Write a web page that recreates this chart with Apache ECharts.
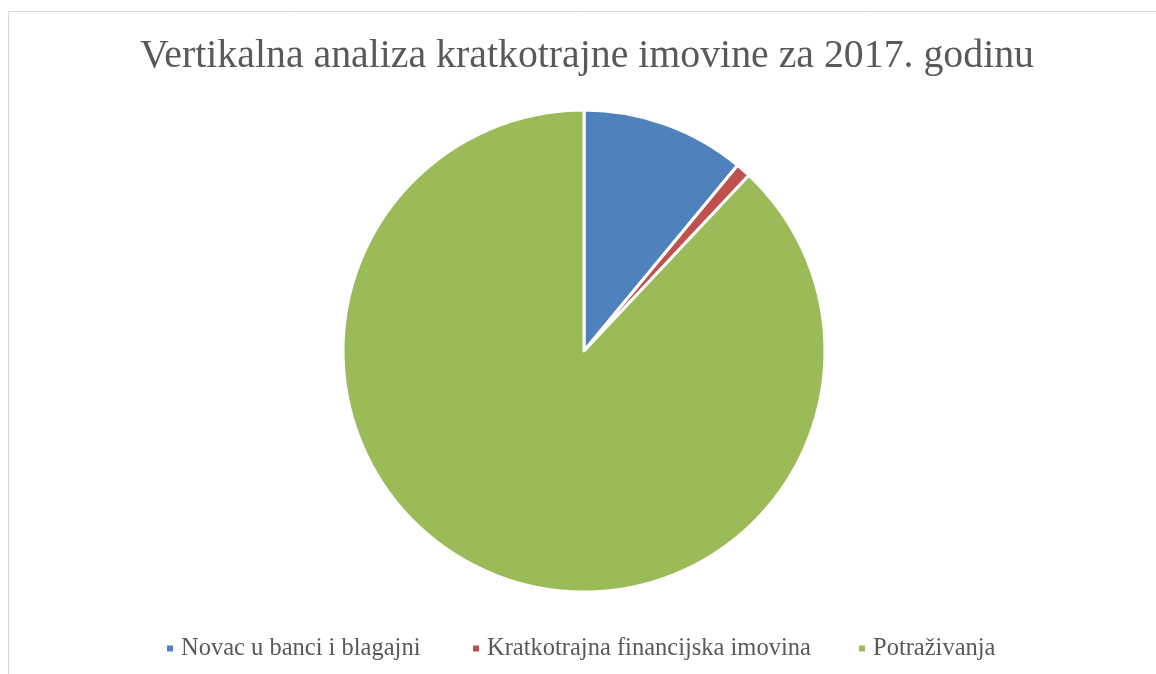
<!DOCTYPE html>
<html><head><meta charset="utf-8">
<script src="https://cdn.jsdelivr.net/npm/echarts@6/dist/echarts.min.js"></script>
<style>html,body{margin:0;padding:0;background:#fff}#c{width:1156px;height:674px}</style>
</head><body><div id="c"></div>
<script>
const titleText = 'Vertikalna analiza kratkotrajne imovine za 2017. godinu';
const categories = ['Novac u banci i blagajni', 'Kratkotrajna financijska imovina', 'Potraživanja'];
const values = [11.0, 1.0, 88.0];
const colors = ['#4f81bd', '#c0504d', '#9bbb59'];

const chart = echarts.init(document.getElementById('c'));
const font = 'Liberation Serif';
const legendLefts = [165, 471, 857];
chart.setOption({
  animation: false,
  title: { text: titleText, left: 140, top: 37, padding: 0, textStyle: { fontFamily: font, fontSize: 39.8, fontWeight: 'normal', color: '#595959' } },
  graphic: [{ type: 'rect', shape: { x: 8.5, y: 11.5, width: 1200, height: 700 }, style: { fill: 'none', stroke: '#d9d9d9', lineWidth: 1 } }],
  legend: categories.map((c, i) => ({
    data: [c], left: legendLefts[i], top: 636, icon: 'rect', itemWidth: 8, itemHeight: 8, itemGap: 8, padding: 0,
    textStyle: { fontFamily: font, fontSize: 24.5, color: '#595959', padding: [0, 0, 0, 2] }, selectedMode: false
  })),
  series: [{
    type: 'pie', center: [584, 351], radius: [0, 241], startAngle: 90, clockwise: true,
    label: { show: false }, labelLine: { show: false }, silent: true,
    itemStyle: { borderColor: '#fff', borderWidth: 3 },
    data: categories.map((c, i) => ({ name: c, value: values[i], itemStyle: { color: colors[i] } }))
  }]
});
</script></body></html>
